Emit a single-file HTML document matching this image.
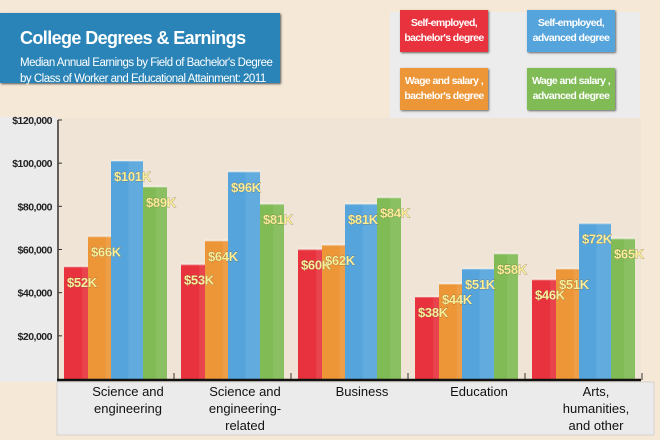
<!DOCTYPE html>
<html><head><meta charset="utf-8"><style>
body{margin:0;width:660px;height:440px;background:#f5e8d6;overflow:hidden;font-family:"Liberation Sans",sans-serif;}
#wrap{position:relative;width:660px;height:440px;}
.title{position:absolute;left:0;top:13px;width:280px;height:70px;background:#2a84b7;color:#fff;box-shadow:1px 1px 2px #555;}
.title h1{margin:0;position:absolute;left:20px;top:15px;font-size:18px;font-weight:bold;letter-spacing:-0.6px;white-space:nowrap;}
.title p{margin:0;position:absolute;left:20px;top:42px;font-size:11.5px;line-height:16px;letter-spacing:-0.5px;white-space:nowrap;}
.legpanel{position:absolute;left:390px;top:12px;width:250px;height:106px;background:#ececec;}
.leg{position:absolute;width:88px;height:42px;color:#fff;font-size:10.5px;font-weight:bold;text-align:center;line-height:15px;display:flex;align-items:center;justify-content:center;box-shadow:1px 1px 2px #666;letter-spacing:-0.6px;white-space:nowrap;}
</style></head><body><div id="wrap">
<div class="title"><h1>College Degrees &amp; Earnings</h1><p>Median Annual Earnings by Field of Bachelor's Degree<br>by Class of Worker and Educational Attainment: 2011</p></div>
<div class="legpanel"></div>
<div class="leg" style="left:400px;top:10px;background:#e8333e">Self-employed,<br>bachelor's degree</div>
<div class="leg" style="left:527px;top:10px;background:#55a4dc">Self-employed,<br>advanced degree</div>
<div class="leg" style="left:400px;top:68px;background:#ec9638">Wage and salary ,<br>bachelor's degree</div>
<div class="leg" style="left:527px;top:68px;background:#80bb55">Wage and salary ,<br>advanced degree</div>
<svg id="chart" width="660" height="440" style="position:absolute;left:0;top:0"></svg>
</div>
<script>
const categories=[["Science and","engineering"],["Science and","engineering-","related"],["Business"],["Education"],["Arts,","humanities,","and other"]];
const selfBachelor=[52,53,60,38,46];
const wageBachelor=[66,64,62,44,51];
const selfAdvanced=[101,96,81,51,72];
const wageAdvanced=[89,81,84,58,65];
const yTicks=[20000,40000,60000,80000,100000,120000];
const yTickLabels=["$20,000","$40,000","$60,000","$80,000","$100,000","$120,000"];
const NS="http://www.w3.org/2000/svg";
const svg=document.getElementById('chart');
function y(v){return 379-(v/120000)*259;}
function xg(i){return 64+i*117;}
function mk(t,a){const e=document.createElementNS(NS,t);for(const k in a)e.setAttribute(k,a[k]);svg.appendChild(e);return e;}
let e;
e=mk('rect',{x:0,y:117,width:57,height:265,fill:'#ebebeb'});


e=mk('rect',{x:57,y:118,width:584,height:262,fill:'#efe4d6'});


e=mk('rect',{x:57,y:382,width:597,height:53,fill:'#ebebeb',stroke:'#bbb','stroke-width':0.5});


e=mk('line',{x1:58,y1:120,x2:58,y2:380,stroke:'#333','stroke-width':1.5});


yTicks.forEach((v,i)=>{
 e=mk('line',{x1:58,x2:62,y1:y(v),y2:y(v),stroke:'#333'});
 
 
 e=mk('text',{x:52,y:y(v)+4,'text-anchor':'end','font-size':10.5,'font-weight':'bold',fill:'#222','letter-spacing':'-0.5'});
 e.textContent=yTickLabels[i];
 
 
});
const series=[[selfBachelor,'#e8333e',0,33,'self-bachelor'],[wageBachelor,'#ec9638',24,32,'wage-bachelor'],[selfAdvanced,'#55a4dc',47,32,'self-advanced'],[wageAdvanced,'#80bb55',79,24,'wage-advanced']];
categories.forEach((c,i)=>{
 series.forEach(s=>{
  const v=s[0][i]*1000,x=xg(i)+s[2],w=s[3],t=y(v);
  e=mk('rect',{x:x,y:t,width:w,height:379-t,fill:s[1]});
  
  
  mk('rect',{x:x+w*0.55,y:t,width:w*0.45,height:379-t,fill:'#fff',opacity:0.08});
  mk('rect',{x:x,y:t-2,width:w,height:3,fill:'#fff',opacity:0.25});
 });
 series.forEach(s=>{
  const v=s[0][i]*1000,x=xg(i)+s[2],t=y(v);
  e=mk('text',{x:x+3,y:t+20,'font-size':13,'font-weight':'bold',fill:'#fbef9a',stroke:'#6a5a3a','stroke-width':0.4,'letter-spacing':'-0.3',style:'paint-order:stroke'});
  e.textContent='$'+s[0][i]+'K';
  
  
 });
 c.forEach((ln,j)=>{
  e=mk('text',{x:xg(i)+64,y:396+j*17,'text-anchor':'middle','font-size':13,fill:'#111'});
  e.textContent=ln;
  
  
 });
 e=mk('line',{x1:xg(i)+110,x2:xg(i)+110,y1:373,y2:380,stroke:'#333'});
 
 
});
e=mk('line',{x1:57,y1:380,x2:641,y2:380,stroke:'#111','stroke-width':2.5});


</script></body></html>
